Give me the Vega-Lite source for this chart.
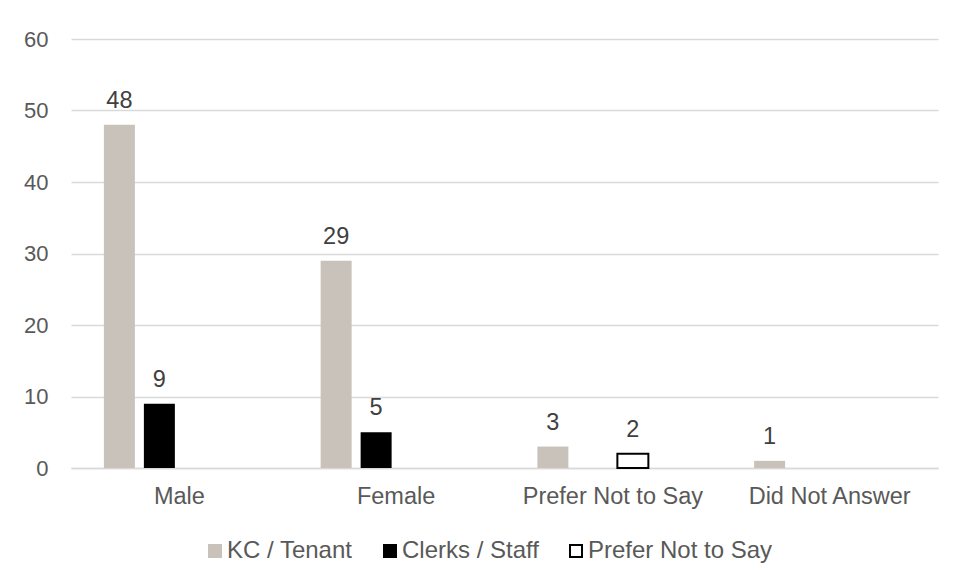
{
  "$schema": "https://vega.github.io/schema/vega-lite/v6.json",
  "width": 867,
  "height": 429,
  "autosize": {"type": "none"},
  "padding": {"left": 71, "top": 39, "right": 22, "bottom": 113},
  "background": "white",
  "config": {
    "view": {"stroke": null},
    "font": "Liberation Sans"
  },
  "data": {
    "values": [
      {"category": "Male", "series": "KC / Tenant", "value": 48},
      {"category": "Male", "series": "Clerks / Staff", "value": 9},
      {"category": "Female", "series": "KC / Tenant", "value": 29},
      {"category": "Female", "series": "Clerks / Staff", "value": 5},
      {"category": "Prefer Not to Say", "series": "KC / Tenant", "value": 3},
      {"category": "Prefer Not to Say", "series": "Prefer Not to Say", "value": 2},
      {"category": "Did Not Answer", "series": "KC / Tenant", "value": 1}
    ]
  },
  "encoding": {
    "x": {
      "field": "category",
      "type": "nominal",
      "sort": ["Male", "Female", "Prefer Not to Say", "Did Not Answer"],
      "scale": {"paddingInner": 0.262, "paddingOuter": 0.131},
      "axis": {
        "title": null,
        "labelAngle": 0,
        "labelFontSize": 23.5,
        "labelColor": "#595959",
        "labelPadding": 16,
        "labelLimit": 300,
        "ticks": false,
        "domainColor": "#d9d9d9",
        "domainWidth": 1.5
      }
    },
    "xOffset": {
      "field": "series",
      "type": "nominal",
      "scale": {
        "domain": ["KC / Tenant", "Clerks / Staff", "Prefer Not to Say", "(blank)"],
        "paddingInner": 0.225,
        "paddingOuter": 0.1125
      }
    },
    "y": {
      "field": "value",
      "type": "quantitative",
      "scale": {"domain": [0, 60]},
      "axis": {
        "title": null,
        "values": [0, 10, 20, 30, 40, 50, 60],
        "domain": false,
        "ticks": false,
        "gridColor": "#d9d9d9",
        "gridWidth": 1.5,
        "labelFontSize": 22,
        "labelColor": "#595959",
        "labelPadding": 23
      }
    }
  },
  "layer": [
    {
      "mark": {"type": "bar"},
      "encoding": {
        "color": {
          "field": "series",
          "type": "nominal",
          "scale": {
            "domain": ["KC / Tenant", "Clerks / Staff", "Prefer Not to Say"],
            "range": ["#C9C2BA", "#000000", "#FFFFFF"]
          },
          "legend": {
            "title": null,
            "orient": "none",
            "direction": "horizontal",
            "legendX": 132,
            "legendY": 500,
            "symbolType": "square",
            "symbolSize": 144,
            "symbolStrokeWidth": 2,
            "symbolOpacity": 1,
            "labelFontSize": 24,
            "labelColor": "#595959",
            "labelOffset": 0,
            "labelLimit": 400,
            "columnPadding": 25
          }
        },
        "stroke": {
          "field": "series",
          "type": "nominal",
          "scale": {
            "domain": ["KC / Tenant", "Clerks / Staff", "Prefer Not to Say"],
            "range": ["#C9C2BA", "#000000", "#000000"]
          },
          "legend": {
            "title": null,
            "orient": "none",
            "direction": "horizontal",
            "legendX": 132,
            "legendY": 500,
            "symbolType": "square",
            "symbolSize": 144,
            "symbolStrokeWidth": 2,
            "labelFontSize": 24,
            "labelColor": "#595959",
            "labelOffset": 0,
            "labelLimit": 400,
            "columnPadding": 25
          }
        },
        "strokeWidth": {
          "condition": {"test": "datum.series === 'Prefer Not to Say'", "value": 2},
          "value": 0
        },
        "opacity": {"value": 1}
      }
    },
    {
      "mark": {"type": "text", "baseline": "alphabetic", "dy": -17, "fontSize": 23.5, "color": "#404040"},
      "encoding": {
        "text": {"field": "value", "type": "quantitative"}
      }
    }
  ]
}
